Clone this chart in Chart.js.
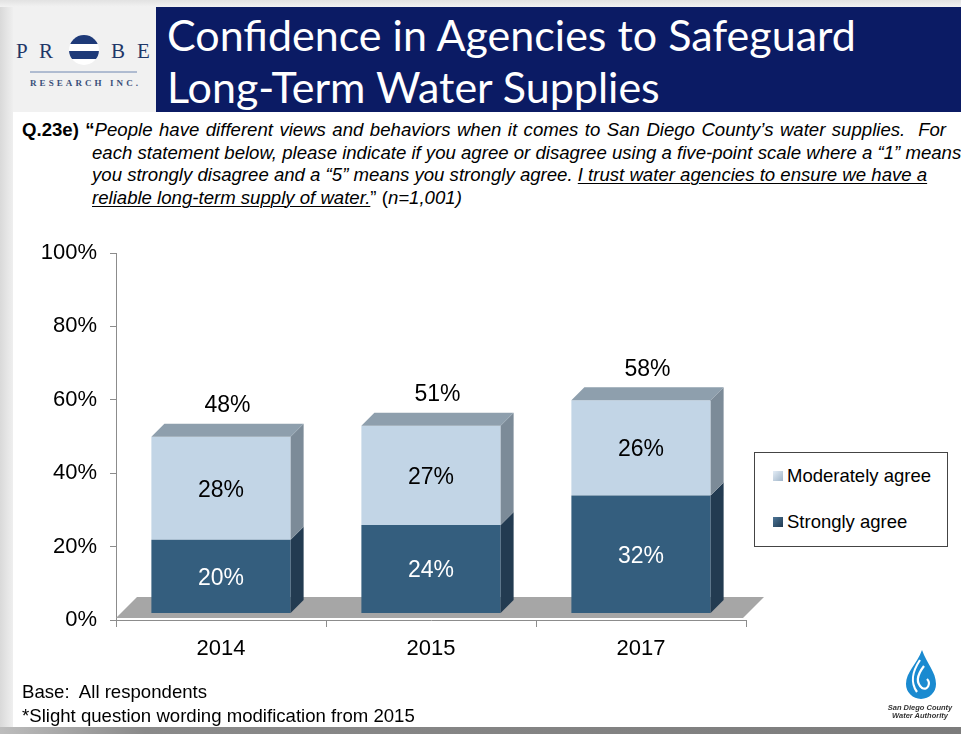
<!DOCTYPE html>
<html>
<head>
<meta charset="utf-8">
<title>Confidence in Agencies to Safeguard Long-Term Water Supplies</title>
<script src="https://cdn.jsdelivr.net/npm/chart.js@4.4.1/dist/chart.umd.min.js"></script>
<style>
  html, body { margin: 0; padding: 0; }
  body {
    width: 961px; height: 734px; position: relative; overflow: hidden;
    background: #fff; font-family: 'Liberation Sans', Arial, sans-serif;
  }
  .edgeLeft { position: absolute; left: 0; top: 0; width: 13px; height: 734px;
    background: linear-gradient(to right, #d9d9d9, #efefef); }
  .edgeTop { position: absolute; left: 0; top: 0; width: 961px; height: 7px;
    background: linear-gradient(to bottom, #e2e2e2, #f2f2f2); }
  .edgeBottom { position: absolute; left: 0; top: 727px; width: 961px; height: 7px;
    background: linear-gradient(to right, #bdbdbd, #8a8a8a 15%, #7c7c7c); }
  .logoBox { position: absolute; left: 13px; top: 7px; width: 143px; height: 105px; background: #f1f1f1; }
  .titleBox { position: absolute; left: 156px; top: 7px; width: 805px; height: 105px; background: #0b1b64; }
  .titleLine { position: absolute; left: 11px; color: #fff; font-family: Lato, 'Open Sans', sans-serif;
    font-size: 43px; white-space: nowrap; }
  .question { position: absolute; left: 22px; top: 119px; font-family: 'Liberation Sans', Arial, sans-serif;
    font-size: 18.6px; line-height: 22.5px; color: #000; white-space: nowrap; }
  .question div { height: 22.5px; }
  .question .ind { padding-left: 70px; }
  .question u { text-decoration-thickness: 1px; text-underline-offset: 2px; }
  #chartWrap { position: absolute; left: 0; top: 0; width: 961px; height: 734px; }
  .legend { position: absolute; left: 754px; top: 452px; width: 192px; height: 93px;
    border: 1px solid #444; background: #fff; font-size: 18.5px; color: #000; }
  .legend div { position: absolute; left: 18px; white-space: nowrap; }
  .legend span { display: inline-block; width: 10px; height: 10px; margin-right: 4px; vertical-align: 1px; }
  .footer { position: absolute; left: 22px; font-family: 'Liberation Sans', Arial, sans-serif;
    font-size: 18.6px; color: #000; white-space: nowrap; }
  .cwa { position: absolute; left: 880px; top: 648px; width: 80px; text-align: center;
    font-family: 'Liberation Sans', Arial, sans-serif; font-style: italic; font-weight: bold;
    font-size: 7.5px; line-height: 8px; color: #333; }
</style>
</head>
<body>
<div class="edgeLeft"></div>
<div class="edgeTop"></div>
<div class="edgeBottom"></div>

<div class="logoBox">
  <svg width="143" height="105" viewBox="0 0 143 105">
    <defs>
      <clipPath id="ball"><circle cx="71" cy="43" r="15"/></clipPath>
    </defs>
    <g font-family="'Liberation Serif', 'DejaVu Serif', serif" font-size="21" fill="#1f3768">
      <text x="3" y="51">P</text>
      <text x="26" y="51">R</text>
      <text x="98" y="51">B</text>
      <text x="124" y="51">E</text>
    </g>
    <g clip-path="url(#ball)">
      <rect x="55" y="27" width="32" height="32" fill="#ffffff"/>
      <rect x="55" y="27" width="32" height="10" fill="#1e3a78"/>
      <rect x="55" y="44" width="32" height="8" fill="#1e3a78"/>
    </g>
    <line x1="17" y1="65" x2="124" y2="65" stroke="#6e86b0" stroke-width="1"/>
    <text x="17" y="79" textLength="108" lengthAdjust="spacing" font-family="'Liberation Serif', 'DejaVu Serif', serif"
          font-size="9" font-weight="bold" fill="#3a4f7a">RESEARCH INC.</text>
  </svg>
</div>
<div class="titleBox">
  <div class="titleLine" style="top: 2px;">Confidence in Agencies to Safeguard</div>
  <div class="titleLine" style="top: 54px;">Long-Term Water Supplies</div>
</div>

<div class="question">
  <div style="word-spacing: 1.3px;"><b>Q.23e) “</b><i>People have different views and behaviors when it comes to San Diego County’s water supplies.&nbsp; For</i></div>
  <div class="ind"><i>each statement below, please indicate if you agree or disagree using a five-point scale where a “1” means</i></div>
  <div class="ind"><i>you strongly disagree and a “5” means you strongly agree. <u>I trust water agencies to ensure we have a</u></i></div>
  <div class="ind"><i><u>reliable long-term supply of water.</u></i>” (<i>n=1,001)</i></div>
</div>

<div id="chartWrap"><canvas id="chart" width="961" height="734"></canvas></div>

<div class="legend">
  <div style="top: 12px;"><span style="background: linear-gradient(135deg, #e4edf6, #9fb4c8);"></span>Moderately agree</div>
  <div style="top: 58px;"><span style="background: linear-gradient(135deg, #4d7596, #1f3a52);"></span>Strongly agree</div>
</div>

<div class="footer" style="top: 681px;">Base:&nbsp; All respondents</div>
<div class="footer" style="top: 705px;">*Slight question wording modification from 2015</div>

<div class="cwa">
  <svg width="40" height="54" viewBox="0 0 40 54">
    <path d="M22 2 C 17 16, 6 24, 6 36 A 15 15 0 0 0 36 36 C 36 24, 27 16, 22 2 Z" fill="#1a8ad0"/>
    <path d="M20 12 C 12 24, 10 34, 17 44" stroke="#fff" stroke-width="2.2" fill="none"/>
    <path d="M24 18 C 17 27, 16 35, 22 40 C 28 43, 31 35, 27 31" stroke="#fff" stroke-width="2.2" fill="none"/>
  </svg>
  <div>San Diego County</div>
  <div>Water Authority</div>
</div>

<script>
// 調査年
const years = ['2014', '2015', '2017'];
// 系列の値 (%)
const stronglyAgree = [20, 24, 32];
const moderatelyAgree = [28, 27, 26];
const totalAgree = [48, 51, 58];
// Y軸目盛
const yTicks = [0, 20, 40, 60, 80, 100];

// 3D表現用
const DEPTH = 13;
const FLOOR_DEPTH = 21;
// 棒の前面は軸より少し奥 (約7px上) にある
const BAR_SHIFT = 1.9;

const COLORS = {
    darkFront: '#345e7e',
    darkSide: '#233b51',
    lightFront: '#c2d5e6',
    lightSide: '#7c8b98',
    top: '#8e9fad',
    floor: '#a6a6a6',
    axis: '#8c8c8c'
};

// 床・側面・上面・ラベル
const threeDPlugin = {
    id: 'threeD',
    beforeDatasetsDraw(chart) {
        const ctx = chart.ctx;
        const a = chart.chartArea;
        const fy = a.bottom - 2;
        ctx.save();
        ctx.fillStyle = COLORS.floor;
        ctx.beginPath();
        ctx.moveTo(a.left, fy);
        ctx.lineTo(a.right - 3, fy);
        ctx.lineTo(a.right - 3 + FLOOR_DEPTH, fy - FLOOR_DEPTH);
        ctx.lineTo(a.left + FLOOR_DEPTH, fy - FLOOR_DEPTH);
        ctx.closePath();
        ctx.fill();
        ctx.restore();
    },
    afterDatasetsDraw(chart) {
        const ctx = chart.ctx;
        const d = DEPTH;
        const sideColors = [COLORS.darkSide, COLORS.lightSide];
        const last = chart.data.datasets.length - 1;
        ctx.save();
        chart.data.datasets.forEach((ds, i) => {
            chart.getDatasetMeta(i).data.forEach(bar => {
                const p = bar.getProps(['x', 'y', 'base', 'width'], true);
                const left = p.x - p.width / 2;
                const right = p.x + p.width / 2;
                // 側面
                ctx.fillStyle = sideColors[i];
                ctx.beginPath();
                ctx.moveTo(right, p.y);
                ctx.lineTo(right + d, p.y - d);
                ctx.lineTo(right + d, p.base - d);
                ctx.lineTo(right, p.base);
                ctx.closePath();
                ctx.fill();
                // 上面
                if (i === last) {
                    ctx.fillStyle = COLORS.top;
                    ctx.beginPath();
                    ctx.moveTo(left, p.y);
                    ctx.lineTo(left + d, p.y - d);
                    ctx.lineTo(right + d, p.y - d);
                    ctx.lineTo(right, p.y);
                    ctx.closePath();
                    ctx.fill();
                }
            });
        });

        // 値ラベル
        ctx.font = '23px "Liberation Sans", Arial, sans-serif';
        ctx.textAlign = 'center';
        ctx.textBaseline = 'middle';
        const labelColors = ['#ffffff', '#000000'];
        chart.data.datasets.forEach((ds, i) => {
            chart.getDatasetMeta(i).data.forEach((bar, j) => {
                const p = bar.getProps(['x', 'y', 'base'], true);
                ctx.fillStyle = labelColors[i];
                ctx.fillText(ds.data[j] + '%', p.x, (p.y + p.base) / 2 + 2);
                if (i === last) {
                    ctx.fillStyle = '#000';
                    ctx.fillText(totalAgree[j] + '%', p.x + d / 2, p.y - 31);
                }
            });
        });
        ctx.restore();
    }
};

const chart = new Chart(document.getElementById('chart'), {
    type: 'bar',
    data: {
        labels: years,
        datasets: [
            {
                label: 'Strongly agree',
                data: stronglyAgree,
                backgroundColor: COLORS.darkFront,
                yAxisID: 'yBar',
                barPercentage: 0.663,
                categoryPercentage: 1
            },
            {
                label: 'Moderately agree',
                data: moderatelyAgree,
                backgroundColor: COLORS.lightFront,
                yAxisID: 'yBar',
                barPercentage: 0.663,
                categoryPercentage: 1
            }
        ]
    },
    options: {
        responsive: false,
        animation: false,
        events: [],
        layout: {
            padding: { left: 0, top: 253, right: 215, bottom: 60 }
        },
        plugins: {
            legend: { display: false },
            tooltip: { enabled: false }
        },
        scales: {
            x: {
                stacked: true,
                offset: true,
                grid: { offset: true, drawOnChartArea: false, tickLength: 7, color: COLORS.axis },
                border: { color: COLORS.axis },
                ticks: {
                    color: '#000',
                    padding: 9,
                    font: { family: '"Liberation Sans", Arial, sans-serif', size: 22 }
                },
                afterFit: s => { s.height = 54; }
            },
            y: {
                position: 'left',
                min: 0,
                max: 100,
                afterBuildTicks: s => { s.ticks = yTicks.map(v => ({ value: v })); },
                grid: { drawOnChartArea: false, tickLength: 6, color: COLORS.axis },
                border: { color: COLORS.axis },
                ticks: {
                    color: '#000',
                    padding: 13,
                    font: { family: '"Liberation Sans", Arial, sans-serif', size: 22 },
                    callback: v => v + '%'
                },
                afterFit: s => { s.width = 116; }
            },
            yBar: {
                display: false,
                stacked: true,
                min: -BAR_SHIFT,
                max: 100 - BAR_SHIFT
            }
        }
    },
    plugins: [threeDPlugin]
});
</script>
</body>
</html>
